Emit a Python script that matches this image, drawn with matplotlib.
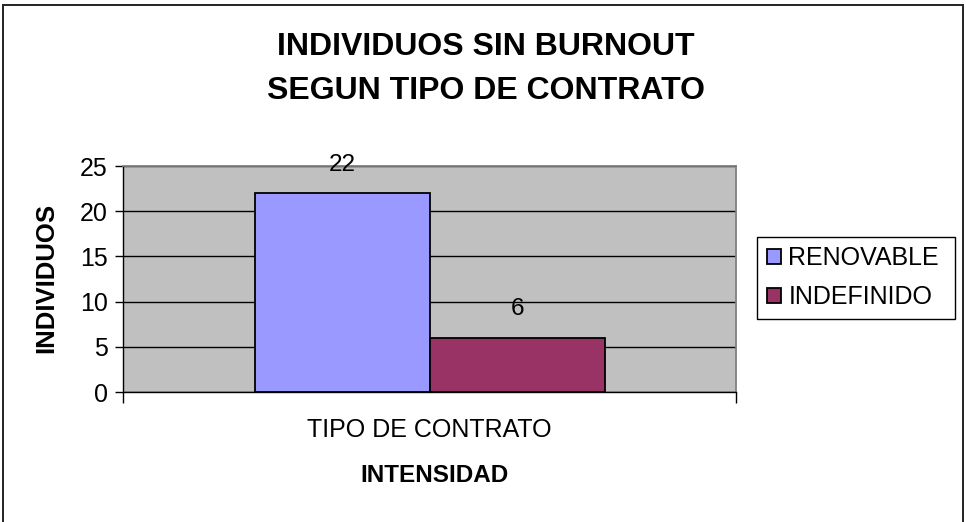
import matplotlib
matplotlib.use("Agg")
import matplotlib.pyplot as plt
from matplotlib.patches import Rectangle, Patch

plt.rcParams['font.family'] = ['Liberation Sans', 'DejaVu Sans']

# Data
title = "INDIVIDUOS SIN BURNOUT\nSEGUN TIPO DE CONTRATO"
categories = ["TIPO DE CONTRATO"]
series_names = ["RENOVABLE", "INDEFINIDO"]
series_values = [[22], [6]]
series_colors = ["#9999FF", "#993366"]
y_ticks = [0, 5, 10, 15, 20, 25]
x_label = "INTENSIDAD"
y_label = "INDIVIDUOS"

W, H = 966, 522
fig = plt.figure(figsize=(W / 100, H / 100), dpi=100)

# Outer chart frame
fig.patches.append(Rectangle((3 / W, -0.02), 960 / W, 1 - 5 / H + 0.02,
                             transform=fig.transFigure, fill=False,
                             edgecolor="#222222", linewidth=1.4, zorder=0))

ax = fig.add_axes([123 / W, 1 - 392 / H, (736 - 123) / W, (392 - 166) / H])
ax.set_facecolor("#C0C0C0")

bar_w = 175 / 613
n = len(series_names)
for i, (name, vals, col) in enumerate(zip(series_names, series_values, series_colors)):
    xs = [c + (i - (n - 1) / 2) * bar_w for c in range(len(categories))]
    bars = ax.bar(xs, vals, width=bar_w, color=col, edgecolor="black",
                  linewidth=1.3, zorder=3, label=name)
    for b, v in zip(bars, vals):
        ax.annotate(str(v), (b.get_x() + b.get_width() / 2, v),
                    xytext=(0, 20.5), textcoords="offset points",
                    ha="center", va="center", fontsize=17.5, zorder=4)

ax.set_xlim(-0.5, len(categories) - 0.5)
ax.set_ylim(0, 25)
ax.set_yticks(y_ticks)
ax.set_yticklabels([str(t) for t in y_ticks], fontsize=18)
ax.yaxis.grid(True, color="black", linewidth=1.0, zorder=1)
ax.set_axisbelow(True)

# Category axis: ticks at the category boundaries, label at the centre
ax.set_xticks([-0.5, 0.5])
ax.set_xticklabels(["", ""])
ax.tick_params(axis="x", direction="out", length=8, width=1, color="black")
ax.tick_params(axis="y", direction="out", length=6, width=1, color="black", pad=5)
for c, cat in enumerate(categories):
    ax.text(c, -0.17, cat, transform=ax.get_xaxis_transform(),
            ha="center", va="center", fontsize=18)

for s in ["top", "right"]:
    ax.spines[s].set_color("#808080")
    ax.spines[s].set_linewidth(1.3)
for s in ["left", "bottom"]:
    ax.spines[s].set_color("black")
    ax.spines[s].set_linewidth(1.0)

fig.text(486 / W, 1 - 69 / H, title, ha="center", va="center",
         fontsize=23, fontweight="bold", linespacing=1.6)
fig.text(435 / W, 1 - 475 / H, x_label, ha="center", va="center",
         fontsize=17.5, fontweight="bold")
fig.text(46 / W, 1 - 278 / H, y_label, ha="center", va="center",
         rotation=90, fontsize=18.5, fontweight="bold")

handles = [Patch(facecolor=c, edgecolor="black", linewidth=1.3) for c in series_colors]
leg = fig.legend(handles, series_names, loc="upper left",
                 bbox_to_anchor=(757 / W, 1 - 321 / H, 198 / W, 84 / H),
                 mode="expand", fontsize=18, frameon=True, fancybox=False,
                 edgecolor="black", framealpha=1, borderpad=0.38,
                 handlelength=0.56, handleheight=0.56, handletextpad=0.32,
                 labelspacing=0.6, borderaxespad=0)
leg.get_frame().set_linewidth(1.0)

fig.savefig("out.png", dpi=100, facecolor="white")
